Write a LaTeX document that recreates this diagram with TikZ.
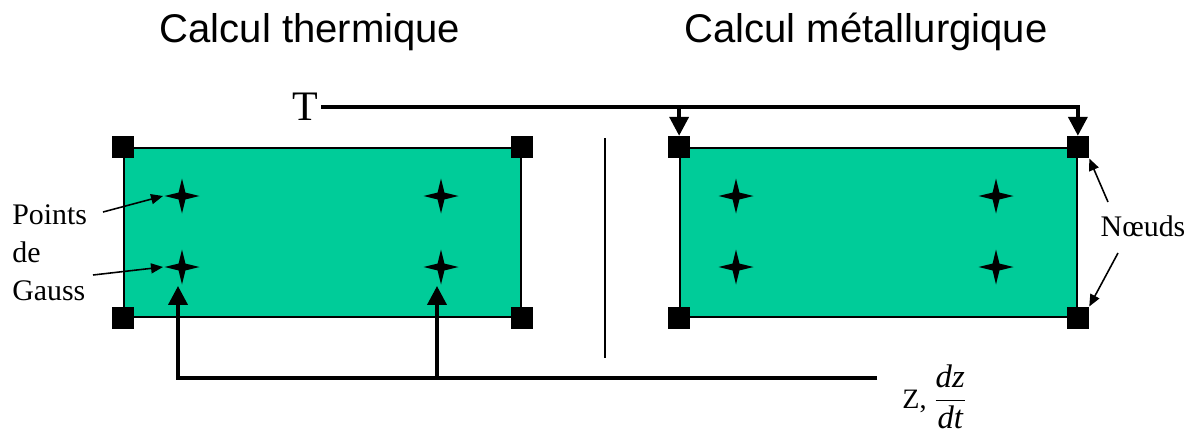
\documentclass[tikz,border=0pt]{standalone}
\usepackage{fontspec}
\setmainfont{Liberation Serif}
\setsansfont{Liberation Sans}
\usepackage{amsmath}
\usepackage{xcolor}
\usetikzlibrary{positioning,arrows.meta,shapes.geometric}
\definecolor{vertelem}{RGB}{0,204,153}

\begin{document}
\begin{tikzpicture}[x=1cm,y=1cm,
  titre/.style={font=\sffamily\fontsize{22.8}{27}\selectfont,anchor=base},
  elem/.style={draw,line width=1pt,fill=vertelem,minimum width=7.94cm,minimum height=3.38cm,inner sep=0},
  noeud/.style={fill=black,minimum size=0.44cm,inner sep=0},
  gauss/.style={star,star points=4,star point ratio=3.6,fill=black,minimum size=0.7cm,inner sep=0},
  fleche/.style={line width=2.2pt,-{Triangle[length=0.38cm,width=0.38cm]}},
  renvoi/.style={line width=0.9pt,-{Triangle[length=0.24cm,width=0.2cm]}},
  legende/.style={font=\fontsize{17}{21.6}\selectfont,inner sep=0}]
  \useasboundingbox (0,0) rectangle (23.9,8.82);
  \node[titre] (titreth) at (6.2,7.98) {Calcul thermique};
  \node[titre] (titremet) at (17.32,7.98) {Calcul métallurgique};
  \node[elem] (eth) at (6.45,4.17) {};
  \node[elem] (emet) at (17.57,4.17) {};
  \foreach \e in {eth,emet}
    \foreach \c/\n in {north west/nw,north east/ne,south west/sw,south east/se}
      \node[noeud] (\e\n) at (\e.\c) {};
  \node[gauss] (ethg1) at (3.64,4.9) {};
  \node[gauss] (ethg2) at (8.82,4.9) {};
  \node[gauss] (ethg3) at (3.64,3.48) {};
  \node[gauss] (ethg4) at (8.82,3.48) {};
  \node[gauss] (emetg1) at (14.72,4.9) {};
  \node[gauss] (emetg2) at (19.92,4.9) {};
  \node[gauss] (emetg3) at (14.72,3.48) {};
  \node[gauss] (emetg4) at (19.92,3.48) {};
  \draw[line width=1pt] (12.1,6.06) -- (12.1,1.66);
  \node[font=\fontsize{23.9}{28}\selectfont,inner sep=0.04cm,anchor=east] (T) at (6.42,6.68) {T};
  \draw[fleche] (T.east) -| (emetnw.north);
  \draw[fleche] (T.east) -| (emetne.north);
  \coordinate (zfin) at (17.54,1.26);
  \node[font=\fontsize{16}{18}\selectfont,anchor=base west,inner sep=0] (zlab) at (18.04,0.66)
    {Z, {\fontsize{18.6}{22}\selectfont$\dfrac{\textit{dz}}{\textit{dt}}$}};
  \draw[fleche] (zfin) -| ([xshift=-0.08cm]ethg3.south);
  \draw[fleche] (zfin) -| ([xshift=-0.08cm]ethg4.south);
  \node[legende,align=left,anchor=west] (pgauss) at (0.24,3.77) {Points\\de\\Gauss};
  \coordinate (pgA) at (2.06,4.58);
  \coordinate (pgB) at (1.86,3.32);
  \draw[renvoi] (pgA) -- (ethg1.west);
  \draw[renvoi] (pgB) -- (ethg3.west);
  \node[legende] (noeuds) at (22.86,4.3) {Nœuds};
  \coordinate (ndA) at (22.16,4.78);
  \coordinate (ndB) at (22.36,3.76);
  \draw[renvoi] (ndA) -- (emetne.south east);
  \draw[renvoi] (ndB) -- (emetse.north east);
\end{tikzpicture}
\end{document}
